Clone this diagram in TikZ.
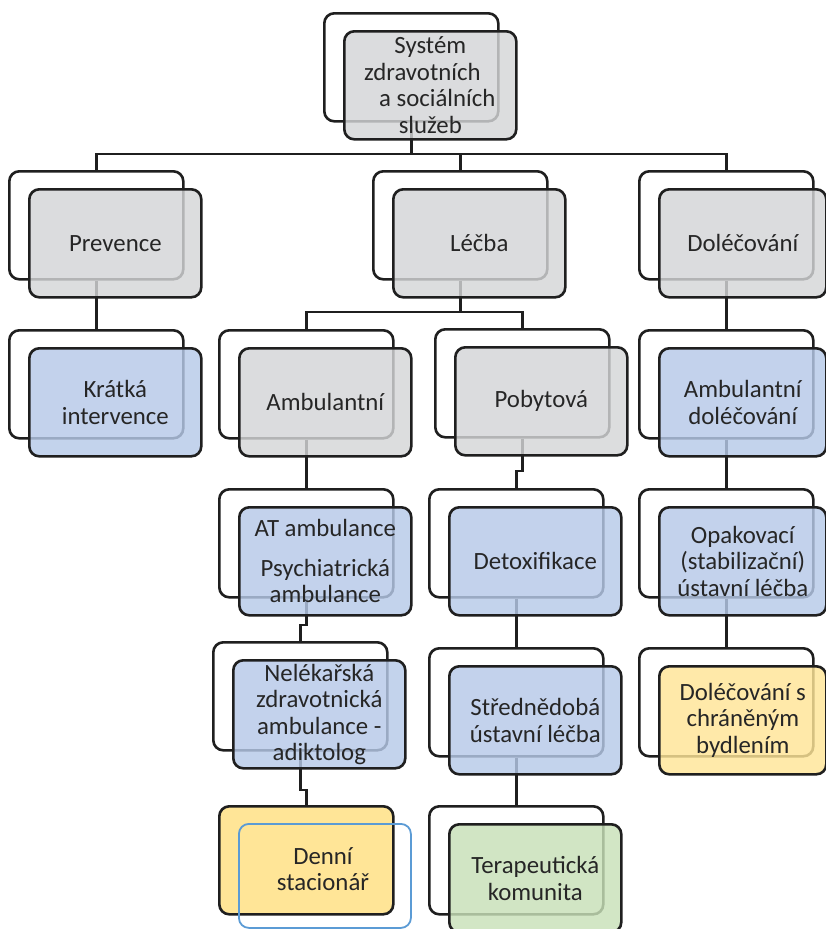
\documentclass[tikz,border=0pt]{standalone}
\usepackage{fontspec}
\setmainfont{Carlito}
\definecolor{boxgray}{HTML}{D4D5D7}
\definecolor{boxblue}{HTML}{B6C9E8}
\definecolor{boxyellow}{HTML}{FFE597}
\definecolor{boxgreen}{HTML}{C8E0B8}
\definecolor{outl}{HTML}{1F1F1F}
\definecolor{txtc}{HTML}{262626}
\definecolor{blueline}{HTML}{5B9BD5}
\tikzset{
  backbox/.style={draw=outl, line width=2.6pt, rounded corners=10pt, fill=white,
    minimum width=174pt, minimum height=108pt, inner sep=0pt, anchor=north west},
  frontbox/.style={draw=outl, line width=2.6pt, rounded corners=10pt,
    fill opacity=0.82, text opacity=1, minimum width=172pt, minimum height=108pt,
    inner sep=0pt, anchor=north west, align=center, text=txtc,
    font=\fontsize{24.8}{26.5}\selectfont},
  txt/.style={align=center, text=txtc, inner sep=0pt, font=\fontsize{24.8}{26.5}\selectfont},
  conn/.style={draw=outl, line width=2.6pt},
}
\begin{document}
\begin{tikzpicture}[x=1pt,y=-1pt]
\useasboundingbox (0,0) rectangle (826,929);
\clip (0,0) rectangle (826,929);
% back boxes
\node[backbox] (rootB) at (323,12) {};
\node[backbox] (prevB) at (8,170) {};
\node[backbox] (lecB) at (372,170) {};
\node[backbox] (dolB) at (638,170) {};
\node[backbox] (kraB) at (8,329) {};
\node[backbox] (ambB) at (218,329) {};
\node[backbox] (pobB) at (434,328) {};
\node[backbox] (adoB) at (638,329) {};
\node[backbox] (atB) at (218,488) {};
\node[backbox] (detB) at (428,488) {};
\node[backbox] (opaB) at (638,488) {};
\node[backbox] (nelB) at (212,641) {};
\node[backbox] (stqB) at (428,647) {};
\node[backbox] (dsbB) at (638,647) {};
\node[backbox, fill=boxyellow] (denB) at (218,805) {};
\node[backbox] (terB) at (428,805) {};
% bus coordinates
\coordinate (bus1) at (0,154);
\coordinate (bus2) at (0,312);
\coordinate (j1) at (0,625);
\coordinate (j2) at (0,790);
\coordinate (j3) at (0,471);
% connectors
\draw[conn] (rootB.south) -- (rootB.south |- bus1);
\draw[conn] (prevB.north) -- (prevB.north |- bus1) -- (dolB.north |- bus1) -- (dolB.north);
\draw[conn] (lecB.north) -- (lecB.north |- bus1);
\draw[conn] (prevB.south) -- (kraB.north);
\draw[conn] (dolB.south) -- (adoB.north);
\draw[conn] (adoB.south) -- (opaB.north);
\draw[conn] (opaB.south) -- (dsbB.north);
\draw[conn] (lecB.south) -- (lecB.south |- bus2);
\draw[conn] (ambB.north) -- (ambB.north |- bus2) -- (pobB.north |- bus2) -- (pobB.north);
\draw[conn] (ambB.south) -- (atB.north);
\draw[conn] (atB.south) -- (atB.south |- j1) -- (nelB.north |- j1) -- (nelB.north);
\draw[conn] (nelB.south) -- (nelB.south |- j2) -- (denB.north |- j2) -- (denB.north);
\draw[conn] (pobB.south) -- (pobB.south |- j3) -- (detB.north |- j3) -- (detB.north);
\draw[conn] (detB.south) -- (stqB.north);
\draw[conn] (stqB.south) -- (terB.north);
% front boxes
\node[frontbox, fill=boxgray] (root) at (343,30) {Systém\\zdravotních\rule{16pt}{0pt}\\\rule{14pt}{0pt}a sociálních\\služeb};
\node[frontbox, fill=boxgray] (prev) at (28,188) {Prevence};
\node[frontbox, fill=boxgray] (lec) at (392,188) {Léčba};
\node[frontbox, fill=boxgray, minimum width=167pt] (dol) at (658,188) {Doléčování};
\node[frontbox, fill=boxblue] (kra) at (28,347) {Krátká\\intervence};
\node[frontbox, fill=boxgray] (amb) at (238,347) {Ambulantní};
\node[frontbox, fill=boxgray] (pob) at (454,346) {Pobytová};
\node[frontbox, fill=boxblue, minimum width=167pt] (ado) at (658,347) {Ambulantní\\doléčování};
\node[frontbox, fill=boxblue] (atA) at (238,506) {AT ambulance\\[13pt]Psychiatrická\\ambulance};
\node[frontbox, fill=boxblue] (det) at (448,506) {Detoxifikace};
\node[frontbox, fill=boxblue, minimum width=167pt] (opa) at (658,506) {Opakovací\\(stabilizační)\\ústavní léčba};
\node[frontbox, fill=boxblue] (nel) at (232,659) {Nelékařská\\zdravotnická\\ambulance -\\adiktolog};
\node[frontbox, fill=boxblue] (stq) at (448,665) {Střednědobá\\ústavní léčba};
\node[frontbox, fill=boxyellow, minimum width=167pt] (dsb) at (658,665) {Doléčování s\\chráněným\\bydlením};
\node[frontbox, fill=none, draw=blueline, line width=1.8pt, minimum height=104pt] (den) at (238,823) {};
\node[txt] (denT) at (323,869) {Denní\\stacionář};
\node[frontbox, fill=boxgreen] (ter) at (448,823) {Terapeutická\\komunita};
\end{tikzpicture}
\end{document}
